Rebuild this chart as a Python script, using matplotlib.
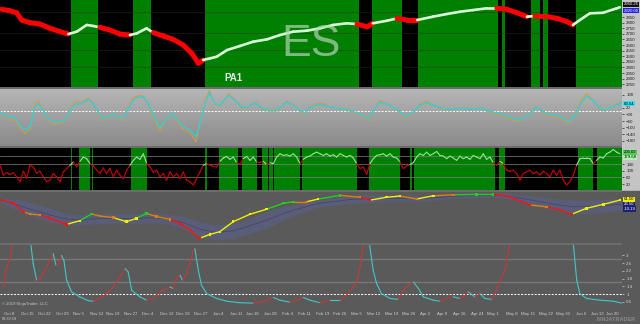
import numpy as np
import matplotlib.pyplot as plt
from matplotlib.collections import LineCollection
from matplotlib.colors import LinearSegmentedColormap
from matplotlib.patches import Rectangle

plt.rcParams['font.family'] = ['Liberation Sans', 'DejaVu Sans']

# ---- data (x = daily bar index) ----
tick_pos = [2.6, 7.8, 12.7, 17.9, 22.8, 28, 32.7, 37.9, 42.8, 48.3, 52.9, 58.1, 63, 68.2, 73.1, 78.3,
            83.2, 88.2, 93.4, 98.3, 103.2, 108, 113.3, 118.2, 123.1, 128, 133, 138.2, 142.5, 148,
            152.9, 158, 163, 168.2, 172.8, 177.2]
tick_lbl = ['Oct 8', 'Oct 15', 'Oct 22', 'Oct 29', 'Nov 5', 'Nov 12', 'Nov 19', 'Nov 27', 'Dec 4',
            'Dec 12', 'Dec 19', 'Dec 27', 'Jan 4', 'Jan 11', 'Jan 18', 'Jan 28', 'Feb 4', 'Feb 11',
            'Feb 19', 'Feb 26', 'Mar 5', 'Mar 12', 'Mar 19', 'Mar 26', 'Apr 2', 'Apr 9', 'Apr 16',
            'Apr 24', 'May 1', 'May 8', 'May 15', 'May 22', 'May 30', 'Jun 6', 'Jun 13', 'Jun 20']

# regime blocks (green background)
p1_green = [(20.5, 28.4), (38.5, 43.7), (59.3, 103.9), (107.6, 116.3), (121, 144.1), (145.3, 146.1),
            (153.6, 156.2), (157.1, 158.6), (166.7, 180)]
p3_green = [(20.5, 20.8), (22.9, 26), (26.6, 26.9), (37.9, 42.5), (59.3, 59.9), (63.4, 68.9), (70, 74.4),
            (75.8, 77.5), (77.8, 79), (79.3, 86.8), (87.4, 103.3), (106.8, 115.7), (118.6, 119.2),
            (119.8, 143.2), (144.4, 146.1), (167.2, 171.6), (172.7, 180)]

# ES price
px_x = [0.5, 2.9, 4.8, 6.3, 8.7, 11.6, 14.5, 17.4, 19.8, 22.2, 25.1, 27, 28.9, 31.8, 34.7, 37.6, 39.6,
        42.4, 44.4, 47.3, 50.1, 53, 55.5, 57.4, 58.8, 60.8, 62.7, 65.7, 69.4, 73.2, 77.3, 81, 84.8,
        88.8, 92.6, 96.4, 100.4, 103.3, 106.2, 107.9, 112, 114.9, 117.8, 120.7, 125.3, 129.3, 133.1,
        136.9, 140.9, 143.8, 146.7, 149.6, 152.5, 154.8, 158.3, 161.2, 164.1, 165.8, 167.8, 170.7,
        174.5, 178.5, 179.4]
px_close = [2919, 2906, 2888, 2823, 2799, 2787, 2749, 2719, 2698, 2719, 2779, 2770, 2758, 2734, 2698,
            2689, 2704, 2749, 2710, 2680, 2651, 2600, 2526, 2437, 2466, 2481, 2495, 2555, 2591, 2629,
            2651, 2689, 2719, 2728, 2749, 2779, 2794, 2787, 2763, 2794, 2817, 2838, 2823, 2823, 2853,
            2877, 2897, 2912, 2928, 2928, 2919, 2888, 2853, 2859, 2853, 2838, 2808, 2779, 2823, 2883,
            2888, 2928, 2937]

# oscillator panel
osc_x = [0, 1.4, 2.9, 4.3, 5.8, 7.2, 8.7, 10.1, 11.1, 12.5, 14, 15.4, 17.4, 18.8, 20.3, 21.7, 23.6, 25.6,
         27, 28.4, 29.9, 31.3, 32.8, 34.2, 35.7, 37.1, 38.6, 40, 41.5, 42.9, 44.4, 46.3, 48.2, 49.7,
         51.1, 53, 55, 56.7, 57.9, 59.3, 60.6, 62.2, 63.7, 66.1, 68, 69.9, 71.8, 73.8, 76.2, 78.1,
         80.1, 83, 84.9, 86.8, 88.3, 89.7, 92.6, 95.5, 98.4, 101.3, 103.7, 106.6, 108.5, 110, 112.8,
         115.3, 117.2, 119.1, 121.5, 123.5, 125.4, 128.3, 131.2, 133.1, 136, 138.9, 141.8, 144.7,
         147.6, 149.5, 151.4, 153.4, 155.1, 156.7, 159.1, 161.1, 163, 164.9, 166.9, 168.3, 169.8,
         171.7, 173.6, 175.1, 177, 178.4, 179.9]
osc_cyan = [-5, -25, -39, -39, -85, -115, -95, 25, 45, 5, -45, -65, -65, -55, 5, 41, 45, 71, 45, -1,
            -45, -35, -15, -35, -45, 15, 65, 85, 85, 45, -25, -101, -45, -11, -45, -95, -115, -155,
            -75, 45, 111, 45, 35, 95, 65, 25, 25, 51, 11, 5, 5, 55, 35, 5, -11, 25, 40,
            25, 15, 5, -15, -45, 15, 55, 35, 5, -35, -15, 35, 51, 35, 15, 11, 19, 11, 19, -1, -15,
            -35, -55, -45, -15, 25, 5, -25, -25, -45, -65, -5, 55, 91, 65, 15, 5, 25, 35, 51]
osc_orange = [-2, -30, -45, -50, -100, -135, -110, 45, 60, 10, -55, -80, -75, -60, 15, 55, 55, 80, 45,
              -10, -55, -40, -10, -40, -55, 25, 80, 95, 90, 40, -40, -120, -45, -5, -55, -110, -130,
              -185, -75, 65, 125, 40, 30, 105, 70, 20, 20, 55, 5, 0, 0, 60, 40, 0, -20, 30, 48,
              28, 12, 0, -20, -55, 20, 65, 35, 0, -45, -20, 40, 60, 35, 10, 8, 20, 8, 20, -8, -22,
              -45, -65, -50, -10, 30, 0, -35, -35, -55, -75, 5, 70, 105, 65, 10, 0, 25, 40, 55]

# strength line (one value per bar)
str_vals = [134, 74, 90, 78, 90, 64, 34, 98, 54, 134, 124, 84, 98, 64, 34, 44, 84, 64, 34, 94, 114, 134,
            154, 124, 158, 184, 174, 144, 130, 104, 84, 118, 84, 114, 64, 104, 74, 54, 104, 134, 164,
            184, 170, 204, 144, 124, 90, 104, 64, 84, 44, 94, 64, 84, 54, 94, 44, 34, 14, 54, 94, 134,
            144, 134, 128, 124, 158, 178, 188, 170, 184, 150, 140, 174, 188, 164, 184, 154, 150, 158,
            138, 150, 144, 184, 204, 194, 198, 190, 204, 184, 144, 170, 184, 190, 204, 214, 204,
            194, 204, 190, 198, 184, 204, 194, 184, 194, 178, 144, 114, 124, 78, 144, 174, 194, 198,
            204, 190, 204, 184, 178, 154, 114, 130, 138, 150, 184, 204, 194, 214, 194, 204, 218, 194,
            190, 174, 190, 178, 164, 190, 174, 184, 170, 194, 184, 174, 204, 170, 184, 150, 134, 158,
            144, 104, 98, 104, 84, 44, 84, 94, 104, 84, 94, 74, 98, 84, 64, 104, 74, 104, 44, 14, 34,
            74, 134, 174, 178, 178, 174, 144, 164, 184, 178, 204, 214, 230, 214, 204]

# trend line with band
trd_x = [0.5, 3.9, 6.8, 8.7, 11.6, 14.5, 19.3, 23.1, 26.5, 28.9, 32.8, 36.6, 39.5, 42.4, 45.3, 49.2,
         52.1, 55, 57.7, 60.8, 63.6, 67.5, 72.3, 77.1, 82, 84.9, 88.7, 92.1, 98.4, 104.2, 107.1, 111.9,
         115.7, 120.6, 125.4, 131.2, 137.9, 142.7, 146.6, 150.5, 153.4, 158.2, 162, 165.4, 169.7,
         174.6, 179.4]
trd_val = [54, 31, -30, -46, -53, -77, -120, -94, -46, -60, -72, -101, -77, -41, -65, -84, -113, -161,
           -220, -192, -173, -101, -48, -12, 31, 42, 42, 61.5, 88, 74, 54, 74, 83, 61.5, 85, 92, 95, 95,
           83, 47, 18.5, 6, -17, -48, -5, 23.5, 54]
trd_state = ['r', 'r', 'r', 'o', 'o', 'r', 'r', 'y', 'g', 'o', 'o', 'y', 'y', 'g', 'o', 'o', 'r', 'r',
             'r', 'y', 'y', 'y', 'y', 'y', 'g', 'g', 'o', 'y', 'g', 'o', 'r', 'y', 'y', 'o', 'y', 'o',
             'g', 'g', 'r', 'r', 'r', 'o', 'r', 'r', 'y', 'y', 'y']
band_x = [0, 4.8, 9.6, 14.5, 19.3, 24.1, 28.9, 33.8, 38.6, 43.4, 48.2, 53, 57.9, 62.7, 67.5, 72.3, 77.1,
          82, 86.8, 92.1, 102.2, 111.9, 121.5, 131.2, 140.8, 146.6, 152.4, 160.1, 165.9, 171.7, 179.9]
band_hi = [66.5, 59, 30.7, -5, -41, -53, -41, -41, -46, -36.7, -46, -65, -101, -125, -113, -77, -29.6,
           6, 30.7, 54, 90, 90, 83, 97, 102, 102, 90, 66.5, 54, 54, 66.5]
band_lo = [42, -17.4, -65.4, -101, -125, -125, -113, -113, -113, -108, -113, -149, -209, -232, -220,
           -184, -149, -89, -41, 6, 30.7, 42, 42, 66.5, 74, 66.5, 30.7, -17.4, -41, -41, -17.4]

# bottom ratio panel
rat_x = [1.0, 1.9, 2.9, 3.9, 5.8, 7.7, 8.9, 9.6, 10.6, 11.6, 12.5, 13.5, 14.5, 15.4, 16.2, 16.9, 17.8,
         18.5, 19.3, 20.7, 23.1, 25.6, 27, 28.9, 30.9, 32.8, 34.7, 36.2, 37.1, 38.1, 40.5, 42.4, 44.4,
         46.3, 48.2, 49.2, 50.1, 51.1, 52.1, 52.8, 54, 55, 55.9, 56.4, 57.4, 58.3, 59.8, 62.7, 65.6,
         69.4, 73.3, 75.2, 77.1, 79.1, 81, 83.9, 85.8, 87.8, 89.7, 92.6, 95.5, 98.4, 100.3, 102.2,
         103.2, 104.2, 105.1, 106.1, 106.9, 108, 109, 110.4, 112.9, 115.3, 116.7, 118.2, 119.6, 121.1,
         122.5, 125.4, 127.3, 129.2, 131.2, 133.1, 134.1, 135.5, 137.4, 138.9, 140.3, 142.3, 143.2,
         144.7, 146.1, 147.6, 150.5, 155.3, 160.1, 164, 165.9, 166.9, 167.8, 169.7, 173.6, 177.5, 179.9]
rat_val = [1.37, 2.39, 2.9, 3.9, 4.5, 4.2, 3.6, 2.57, 1.71, 1.78, 2.06, 2.39, 2.73, 3.08, 2.48, 2.57,
           2.99, 2.73, 1.71, 1.12, 0.86, 0.66, 0.64, 0.78, 1.03, 1.37, 1.88, 2.31, 2.14, 1.2, 0.86,
           0.69, 0.78, 1.12, 1.29, 1.37, 1.29, 1.88, 1.97, 1.71, 2.06, 2.57, 3.24, 3.33, 2.22, 1.46,
           1.03, 0.78, 0.64, 0.56, 0.54, 0.59, 0.69, 0.83, 0.69, 0.59, 0.69, 0.83, 0.69, 0.56, 0.69,
           0.69, 0.95, 1.37, 1.54, 2.39, 3.6, 4.0, 3.6, 2.22, 1.54, 1.03, 0.78, 0.73, 1.2, 1.46, 1.63,
           1.29, 0.86, 0.69, 0.64, 0.78, 0.86, 0.78, 0.86, 1.12, 0.86, 1.03, 0.78, 0.73, 1.03, 1.71,
           2.22, 3.6, 5.0, 6.0, 6.0, 5.0, 3.6, 1.71, 1.03, 0.78, 0.69, 0.64, 0.54]

# ---- drawing ----
W, H = 640, 324
fig = plt.figure(figsize=(6.4, 3.24), dpi=100, facecolor='#6c6c6c')


def panel(top, bottom, bg, lblcol):
    ax = fig.add_axes([0, 1 - bottom / H, 622 / W, (bottom - top) / H], facecolor=bg)
    ax.set_xlim(0, 180)
    for s in ax.spines.values():
        s.set_visible(False)
    ax.yaxis.tick_right()
    ax.tick_params(axis='y', labelsize=3.2, length=1.5, width=0.5, pad=1.5, colors=lblcol)
    ax.tick_params(axis='x', bottom=False, labelbottom=False)
    return ax


def in_any(x, blocks):
    return any(a <= x < b for a, b in blocks)


def seg_line(ax, x, y, cols, lw, z=3):
    pts = np.column_stack([x, y])
    segs = np.stack([pts[:-1], pts[1:]], axis=1)
    ax.add_collection(LineCollection(segs, colors=cols, linewidths=lw, capstyle='round', zorder=z))


def value_box(ax, yfrac, txt, fc, tc):
    ax.text(1.003, yfrac, txt, transform=ax.transAxes, fontsize=3.1, color=tc, va='center', ha='left',
            bbox=dict(boxstyle='square,pad=0.12', fc=fc, ec='none'))


# right label strips
fig.patches.append(Rectangle((622 / W, 1 - 190 / H), 18 / W, 190 / H, transform=fig.transFigure,
                             color='#c4c4c4', zorder=-1))
fig.patches.append(Rectangle((622 / W, 0), 18 / W, 1 - 191 / H, transform=fig.transFigure,
                             color='#5a5a5a', zorder=-1))
fig.patches.append(Rectangle((0, 0), 622 / W, 16 / H, transform=fig.transFigure,
                             color='#5a5a5a', zorder=-1))

# panel 1: price
ax1 = panel(0, 87, 'black', '#202020')
lo1, hi1 = 2225, 3002
ax1.set_ylim(lo1, hi1)
for a, b in p1_green:
    ax1.axvspan(a, b, color='#008000', lw=0, zorder=0)
for lvl in [2404, 2555, 2707, 2897]:
    ax1.axhline(lvl, color='#303030', lw=0.5, zorder=1, alpha=0.6)
mids = [(px_x[i] + px_x[i + 1]) / 2 for i in range(len(px_x) - 1)]
cols = ['#d8ffd8' if in_any(m, p1_green) else '#ff0000' for m in mids]
lws = [1.9 if in_any(m, p1_green) else 3.6 for m in mids]
seg_line(ax1, px_x, px_close, cols, lws)
ax1.set_yticks(range(2250, 2851, 50))
ax1.text(0.5, 0.49, 'ES', transform=ax1.transAxes, fontsize=32, color='#b4d2b4', alpha=0.7,
         ha='center', va='center')
ax1.text(0.376, 0.1, 'PA1', transform=ax1.transAxes, fontsize=7, color='#e8e8e8', fontweight='bold',
         ha='center', va='center')
value_box(ax1, (2962 - lo1) / (hi1 - lo1), '2950.25', '#101010', 'white')
value_box(ax1, (2908 - lo1) / (hi1 - lo1), '2920.00', '#2020e0', 'white')

# panel 2: oscillator
ax2 = panel(88.5, 146, '#a0a0a0', '#202020')
lo2, hi2 = -211, 137
grad = LinearSegmentedColormap.from_list('g', ['#b6b6b6', '#8a8a8a'])
ax2.imshow(np.linspace(0, 1, 64).reshape(-1, 1), cmap=grad, extent=[0, 180, lo2, hi2], aspect='auto',
           zorder=0)
ax2.set_xlim(0, 180)
ax2.set_ylim(lo2, hi2)
ax2.axhline(0, color='white', lw=0.7, ls=(0, (2, 1.5)), zorder=2)
ax2.plot(osc_x, osc_orange, color='#d89a40', lw=0.8, zorder=3)
ax2.plot(osc_x, osc_cyan, color='#30d0d8', lw=1.0, zorder=4)
ax2.set_yticks([-180, -140, -100, -60, -20, 20, 100])
value_box(ax2, (45 - lo2) / (hi2 - lo2), '63.54', '#30e0f0', 'black')

# panel 3: strength
ax3 = panel(147.5, 190, 'black', '#202020')
ax3.set_ylim(-16, 242)
for a, b in p3_green:
    ax3.axvspan(a, b, color='#008000', lw=0, zorder=0)
for lvl in [188, 140, 62]:
    ax3.axhline(lvl, color='#808080', lw=0.5, zorder=1)
sx = np.linspace(0, 179.4, len(str_vals))
mids = (sx[:-1] + sx[1:]) / 2
cols = ['#90e890' if in_any(m, p3_green) else '#d00000' for m in mids]
seg_line(ax3, sx, str_vals, cols, 0.8)
ax3.set_yticks([20, 60, 100, 140])
value_box(ax3, (212 + 16) / 258, '205.02', '#50d050', 'black')
value_box(ax3, (182 + 16) / 258, '179.68', '#b0f0b0', 'black')

# panel 4: trend
ax4 = panel(192, 243, '#5a5a5a', '#d0d0d0')
ax4.set_ylim(-254, 112)
ax4.fill_between(band_x, band_lo, band_hi, color='#5a6090', alpha=0.55, lw=0, zorder=1)
ax4.plot(band_x, [(a + b) / 2 for a, b in zip(band_hi, band_lo)], color='#40456a', lw=0.5, zorder=2)
cmap4 = {'r': '#ff1010', 'o': '#e08000', 'y': '#f0f000', 'g': '#20d020'}
seg_line(ax4, trd_x, trd_val, [cmap4[s] for s in trd_state[1:]], 1.0)
ax4.scatter(trd_x, trd_val, s=3, c=[cmap4[s] for s in trd_state], marker='s', lw=0, zorder=4)
ax4.set_yticks([])
value_box(ax4, (61.5 + 254) / 366, '61.50', '#f0f000', 'black')
value_box(ax4, (25.6 + 254) / 366, '26.50', '#1c2070', 'white')
value_box(ax4, (-10 + 254) / 366, '-10.19', '#1c2070', 'white')

# panel 5: ratio
ax5 = panel(244.5, 308, '#5a5a5a', '#d0d0d0')
ax5.set_ylim(0.29, 3.55)
for lvl in [2.82, 1.6]:
    ax5.axhline(lvl, color='#787878', lw=1.0, zorder=1)
ax5.axhline(1.0, color='white', lw=0.7, ls=(0, (2, 1.5)), zorder=2)
cols = ['#c83838' if rat_val[i + 1] > rat_val[i] else '#40c8c8' for i in range(len(rat_val) - 1)]
seg_line(ax5, rat_x, rat_val, cols, 0.8)
ax5.set_yticks([0.6, 1, 1.4, 1.8, 2.2, 2.6, 3])
ax5.set_yticklabels(['0.6', '1', '1.4', '1.8', '2.2', '2.6', '3'])
ax5.set_xticks(tick_pos)
ax5.set_xticklabels(tick_lbl)
ax5.tick_params(axis='x', bottom=True, labelbottom=True, length=0, pad=3, labelsize=3.1,
                colors='#d0d0d0')
ax5.text(0.003, 0.04, '\u00a9 2019 NinjaTrader, LLC', transform=ax5.transAxes, fontsize=3,
         color='#c8c8c8')

fig.text(2 / W, 4 / H, '03:39:18', fontsize=2.8, color='#c8c8c8')
fig.text(636 / W, 3 / H, 'NINJATRADER', fontsize=4, color='#8a8a8a', ha='right', fontweight='bold')

fig.savefig('out.png', dpi=100, facecolor=fig.get_facecolor())
